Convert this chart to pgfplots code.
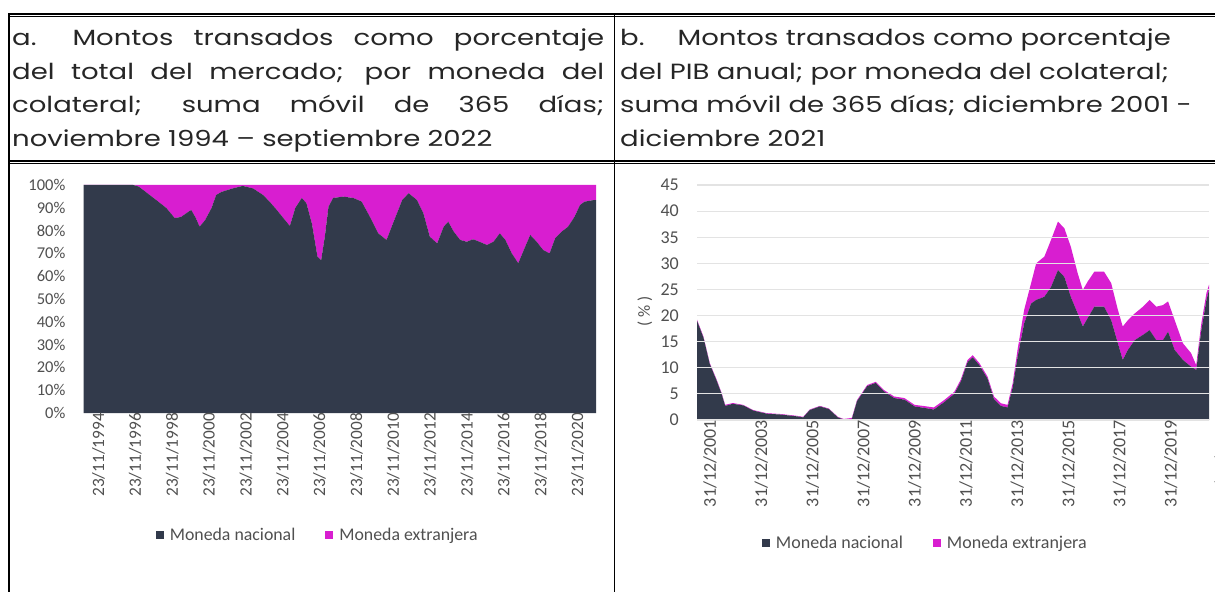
\documentclass[border=0pt]{standalone}
\usepackage{fontspec}
\setmainfont{Carlito}
\newfontfamily\hdr[FakeStretch=1.25]{Poppins}
\usepackage{pgfplots}
\usepackage{pgfplotstable}
\pgfplotsset{compat=1.18}
\definecolor{navy}{RGB}{50,58,75}
\definecolor{mag}{RGB}{216,30,208}
\definecolor{tickc}{RGB}{80,80,80}

\pgfplotstableread{
x nac ext
1994.9 100 0
1997.6 100 0
1997.9 99.3 0.7
1998.85 93.4 6.6
1999.4 89.9 10.1
1999.85 85.5 14.5
2000.2 86 14
2000.6 88.3 11.7
2000.75 89 11
2001.0 85.5 14.5
2001.2 81.7 18.3
2001.5 84.6 15.4
2001.85 89.9 10.1
2002.1 95.6 4.4
2002.4 97 3
2003.0 98.5 1.5
2003.55 99.6 0.4
2004.1 98.5 1.5
2004.65 95.6 4.4
2005.0 92.7 7.3
2005.4 89 11
2005.75 85.5 14.5
2006.1 82 18
2006.4 90 10
2006.75 94.3 5.7
2007.0 92 8
2007.3 83 17
2007.6 68.6 31.4
2007.8 67 33
2008.0 77.3 22.7
2008.2 90.5 9.5
2008.45 94.3 5.7
2009.0 94.9 5.1
2009.55 94.3 5.7
2010.0 92.7 7.3
2010.45 86 14
2010.9 78.8 21.2
2011.35 75.9 24.1
2011.7 83.2 16.8
2012.2 93.4 6.6
2012.55 96.4 3.6
2013.0 93.4 6.6
2013.35 87.6 12.4
2013.7 77.3 22.7
2014.1 74.4 25.6
2014.45 81.7 18.3
2014.7 83.9 16.1
2015.0 79.5 20.5
2015.35 75.9 24.1
2015.7 75.1 24.9
2016.05 76.2 23.8
2016.4 75.1 24.9
2016.8 73.7 26.3
2017.15 75.1 24.9
2017.5 78.8 21.2
2017.8 75.9 24.1
2018.15 70 30
2018.5 65.7 34.3
2018.8 71.5 28.5
2019.15 78.1 21.9
2019.5 75.1 24.9
2019.85 71.5 28.5
2020.2 70 30
2020.5 76.6 23.4
2020.85 79.5 20.5
2021.2 81.7 18.3
2021.55 86 14
2021.85 91.2 8.8
2022.1 92.7 7.3
2022.6 93.4 6.6
2022.72 93.4 6.6
}\tabA

\pgfplotstableread{
x nac ext
2002.0 19.0 0.2
2002.25 15.8 0.2
2002.5 10.7 0.2
2002.77 7.5 0.2
2002.96 5.0 0.2
2003.1 2.7 0.2
2003.4 3.1 0.15
2003.8 2.8 0.1
2004.2 1.8 0.1
2004.73 1.2 0.1
2005.25 1.05 0.1
2005.9 0.7 0.1
2006.15 0.5 0.1
2006.4 1.9 0.1
2006.8 2.6 0.1
2007.15 2.1 0.1
2007.5 0.5 0.1
2007.73 0.1 0.1
2008.05 0.2 0.2
2008.25 3.6 0.2
2008.65 6.5 0.2
2008.98 7.1 0.2
2009.3 5.5 0.25
2009.7 4.2 0.3
2010.1 3.9 0.3
2010.5 2.6 0.3
2010.9 2.3 0.35
2011.25 2.0 0.4
2011.65 3.4 0.4
2012.05 5.0 0.4
2012.3 7.3 0.4
2012.57 11.1 0.4
2012.77 12.0 0.4
2013.03 10.5 0.4
2013.35 7.9 0.4
2013.6 4.0 0.5
2013.87 2.7 0.5
2014.13 2.4 0.5
2014.33 6.2 0.8
2014.52 12.0 1.4
2014.78 18.5 2.6
2015.05 22.3 3.9
2015.25 23.0 7.0
2015.57 23.6 7.7
2015.83 25.5 9.0
2016.1 28.7 9.3
2016.35 27.4 9.3
2016.6 23.6 9.6
2016.87 20.4 7.7
2017.07 17.9 7.0
2017.26 19.5 7.0
2017.52 21.7 6.7
2017.9 21.7 6.7
2018.18 19.1 7.1
2018.44 14.7 6.4
2018.63 11.5 6.4
2018.83 13.4 5.7
2019.1 15.3 5.1
2019.42 16.3 5.4
2019.68 17.2 5.8
2019.94 15.3 6.4
2020.2 15.3 6.7
2020.4 16.9 5.8
2020.66 13.4 5.7
2020.98 11.5 3.2
2021.3 10.2 2.6
2021.5 9.6 0.9
2021.7 17.2 1.3
2021.9 23.0 1.3
2022.0 24.9 1.0
}\tabB

\pgfplotsset{
  mystyle/.style={
    scale only axis,
    axis line style={draw=none},
    major tick length=0pt,
    tick style={draw=none},
    stack plots=y,
    area style,
    xticklabel style={rotate=90, anchor=east, inner sep=0pt, text=tickc},
    yticklabel style={anchor=east, inner sep=0pt, xshift=-18pt, text=tickc},
    legend columns=2,
    legend style={draw=none, fill=none, text=tickc, inner sep=0pt,
      /tikz/every odd column/.append style={column sep=4pt},
      /tikz/every even column/.append style={column sep=28pt}},
    legend image code/.code={\fill[##1] (0pt,-4pt) rectangle (8pt,4pt);},
  }
}

\begin{document}
\begin{tikzpicture}
\useasboundingbox (0pt,0pt) rectangle (1215pt,592pt);
\fill[white] (0pt,0pt) rectangle (1215pt,592pt);
% table borders
\draw[line width=1.3pt] (9pt,578pt) -- (1215pt,578pt);
\draw[line width=0.6pt] (9pt,575.4pt) -- (1215pt,575.4pt);
\draw[line width=1.3pt] (9pt,431pt) -- (1215pt,431pt);
\draw[line width=0.6pt] (9pt,428.4pt) -- (1215pt,428.4pt);
\draw[line width=1.2pt] (9pt,578.6pt) -- (9pt,0pt);
\draw[line width=1.2pt] (614.5pt,578.6pt) -- (614.5pt,0pt);

% headers
\begin{scope}[every node/.style={anchor=base west, inner sep=0pt, font=\hdr\fontsize{22}{30}\selectfont, text=black!85}]
\node at (12pt,546pt) {\makebox[592pt][s]{a.\hspace{36pt}Montos transados como porcentaje}};
\node at (12pt,512.5pt) {\makebox[592pt][s]{del total del mercado; por moneda del}};
\node at (12pt,479pt) {\makebox[592pt][s]{colateral; suma móvil de 365 días;}};
\node at (12pt,445.5pt) {noviembre 1994 – septiembre 2022};
\node at (620pt,546pt) {b.\hspace{33pt}Montos transados como porcentaje};
\node at (620pt,512.5pt) {del PIB anual; por moneda del colateral;};
\node at (620pt,479pt) {suma móvil de 365 días; diciembre 2001 -};
\node at (620pt,445.5pt) {diciembre 2021};
\end{scope}

% panel a
\begin{axis}[mystyle,
  at={(83.5pt,179pt)}, anchor=south west,
  width=512.5pt, height=228pt,
  xmin=1994.9, xmax=2022.72, ymin=0, ymax=100,
  xtick={1994.9,1996.9,1998.9,2000.9,2002.9,2004.9,2006.9,2008.9,2010.9,2012.9,2014.9,2016.9,2018.9,2020.9},
  xticklabels={23/11/1994,23/11/1996,23/11/1998,23/11/2000,23/11/2002,23/11/2004,23/11/2006,23/11/2008,23/11/2010,23/11/2012,23/11/2014,23/11/2016,23/11/2018,23/11/2020},
  xticklabel style={yshift=-15pt, font=\fontsize{17.3}{17.3}\selectfont},
  ytick={0,10,20,30,40,50,60,70,80,90,100},
  yticklabels={0\%,10\%,20\%,30\%,40\%,50\%,60\%,70\%,80\%,90\%,100\%},
  yticklabel style={font=\fontsize{16.5}{16.5}\selectfont},
  legend style={at={(axis description cs:0.457,-0.535)}, anchor=center, font=\fontsize{17.8}{17.8}\selectfont},
]
\addplot[fill=navy, draw=none] table[x=x, y=nac] {\tabA} \closedcycle;
\addplot[fill=mag, draw=none] table[x=x, y=ext] {\tabA} \closedcycle;
\legend{Moneda nacional, Moneda extranjera}
\end{axis}

% panel b
\begin{axis}[mystyle,
  at={(697pt,172pt)}, anchor=south west,
  width=512pt, height=235pt,
  xmin=2002, xmax=2022, ymin=0, ymax=45,
  ymajorgrids, grid style={draw=black!11, line width=1.2pt},
  xtick={2002,2004,2006,2008,2010,2012,2014,2016,2018,2020,2021.97},
  xticklabels={31/12/2001,31/12/2003,31/12/2005,31/12/2007,31/12/2009,31/12/2011,31/12/2013,31/12/2015,31/12/2017,31/12/2019,31/12/2021},
  xticklabel style={yshift=-13pt, font=\fontsize{18}{18}\selectfont},
  ytick={0,5,10,15,20,25,30,35,40,45},
  yticklabels={0,5,10,15,20,25,30,35,40,45},
  yticklabel style={font=\fontsize{18}{18}\selectfont},
  ylabel={( \% )},
  ylabel style={at={(axis description cs:-0.102,0.464)}, anchor=center, font=\fontsize{17}{17}\selectfont, text=tickc},
  legend style={at={(axis description cs:0.446,-0.524)}, anchor=center, font=\fontsize{18}{18}\selectfont},
]
\addplot[fill=navy, draw=none] table[x=x, y=nac] {\tabB} \closedcycle;
\addplot[fill=mag, draw=none] table[x=x, y=ext] {\tabB} \closedcycle;
\legend{Moneda nacional, Moneda extranjera}
\end{axis}
\end{tikzpicture}
\end{document}
